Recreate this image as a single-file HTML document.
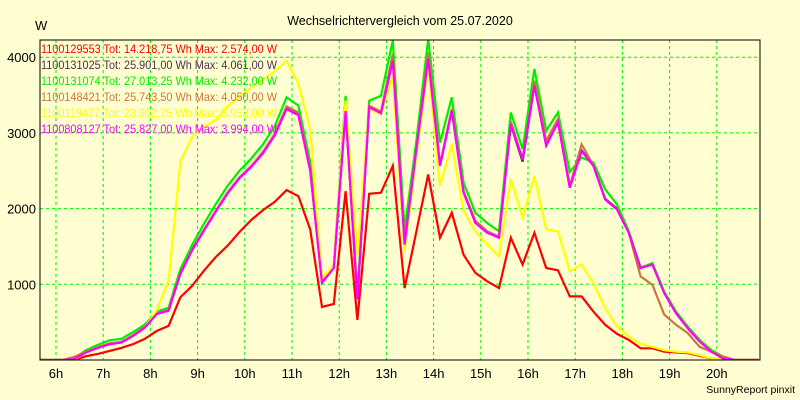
<!DOCTYPE html>
<html><head><meta charset="utf-8">
<style>
html,body{margin:0;padding:0;background:#ffffd2;}
svg{display:block;font-family:"Liberation Sans",sans-serif;}
</style></head>
<body>
<svg id="chart" width="800" height="400" viewBox="0 0 800 400" xmlns="http://www.w3.org/2000/svg">
<rect x="0" y="0" width="800" height="400" fill="#ffffd2"/>
<text x="400" y="25" font-size="12.5" text-anchor="middle" fill="#000">Wechselrichtervergleich vom 25.07.2020</text>
<text x="35" y="30" font-size="13" fill="#000">W</text>
<text x="795" y="393" font-size="10.5" text-anchor="end" fill="#000">SunnyReport pinxit</text>
<g id="grid"></g>
<g id="series"></g>
<g id="legend"></g>
<rect x="40" y="40" width="720" height="320" fill="none" stroke="#000" stroke-width="1"/>
<g id="axes"></g>
</svg>
<script>
const yTicks = [1000, 2000, 3000, 4000];
const xTickHours = [6,7,8,9,10,11,12,13,14,15,16,17,18,19,20];
const xTickLabels = ["6h","7h","8h","9h","10h","11h","12h","13h","14h","15h","16h","17h","18h","19h","20h"];
// samples every 15 min starting 5:45
const startHour = 5.75;
const seriesNames = ["1100129553","1100131025","1100131074","1100148421","1100119477","1100808127"];
const seriesColors = ["#ff0000","#4e3050","#00ee00","#c8783c","#ffff00","#ff00ff"];
const legendTot = ["14.218,75","25.901,00","27.013,25","25.743,50","23.902,75","25.827,00"];
const legendMax = ["2.574,00","4.061,00","4.232,00","4.050,00","3.952,00","3.994,00"];
const red = [0,0,0,0,50,80,120,160,210,280,385,450,830,980,1180,1360,1510,1690,1850,1980,2090,2245,2165,1725,700,740,2230,530,2195,2210,2565,950,1700,2450,1615,1945,1390,1150,1040,950,1615,1260,1680,1215,1185,840,840,640,465,345,265,155,155,110,100,90,55,20,0,0,0,0];
const dark = [0,0,0,10,100,160,210,240,320,430,610,660,1150,1460,1720,1970,2210,2410,2560,2740,2980,3330,3250,2520,1030,1225,3300,800,3350,3250,4000,1520,2790,4000,2570,3300,2220,1820,1690,1620,3110,2620,3640,2840,3150,2280,2770,2570,2130,2000,1690,1220,1270,890,620,420,250,115,25,0,0,0];
const green = [0,0,0,20,130,200,260,280,370,470,640,690,1200,1520,1800,2060,2300,2500,2660,2850,3090,3470,3360,2620,1050,1250,3490,850,3425,3490,4220,1720,2900,4240,2870,3470,2340,1945,1810,1700,3270,2785,3845,3030,3270,2485,2675,2610,2255,2055,1700,1215,1280,905,640,440,265,130,45,0,0,0];
const brown = [0,0,0,40,110,170,220,240,330,440,620,660,1150,1460,1720,1970,2210,2410,2560,2750,2990,3350,3270,2540,1040,1230,3320,820,3360,3280,4045,1540,2800,4065,2580,3320,2230,1840,1700,1630,3150,2650,3690,2895,3185,2300,2850,2570,2120,1990,1680,1105,995,600,465,355,175,110,45,0,0,0];
const yellow = [0,0,0,0,100,160,210,230,320,430,660,1050,2620,2950,3080,3170,3350,3480,3600,3700,3815,3950,3650,3050,1080,1240,3425,1400,3315,3250,3760,1435,2700,3890,2300,2850,1970,1700,1525,1370,2390,1880,2430,1725,1700,1170,1260,1015,685,440,310,210,175,130,110,100,65,20,0,0,0,0];
const magenta = [0,0,0,10,100,160,210,230,320,430,610,650,1140,1450,1710,1960,2200,2400,2550,2730,2970,3315,3235,2500,1020,1215,3290,800,3340,3260,3955,1525,2785,3980,2565,3290,2210,1810,1680,1615,3115,2650,3625,2830,3140,2275,2760,2565,2120,1990,1680,1215,1260,885,620,420,245,110,20,0,0,0];
const seriesData = [red, dark, green, brown, yellow, magenta];

const NS = "http://www.w3.org/2000/svg";
const PX0 = 40, PX1 = 760, PY0 = 40, PY1 = 360;
const SAMPLE_SHIFT = -0.115;
function xScale(h){ return 56 + (h - 6) * 47.2; }
function yScale(v){ return 360 - v * 0.0757; }
function mk(tag, attrs){ const e = document.createElementNS(NS, tag); for (const k in attrs) e.setAttribute(k, attrs[k]); return e; }

const grid = document.getElementById("grid");
const axes = document.getElementById("axes");
yTicks.forEach(function(v){
  const l = mk("line",{x1:PX0,x2:PX1,y1:yScale(v),y2:yScale(v),stroke:"#00ee00","stroke-dasharray":"3,3","stroke-width":1});
  
  
  grid.appendChild(l);
  const t = mk("text",{x:36,y:yScale(v)+5,"font-size":13,"text-anchor":"end",fill:"#000"});
  t.textContent = String(v);
  
  
  axes.appendChild(t);
});
xTickHours.forEach(function(h, i){
  const l = mk("line",{x1:xScale(h),x2:xScale(h),y1:PY0,y2:PY1,stroke:"#00ee00","stroke-dasharray":"3,3","stroke-width":1});
  
  
  grid.appendChild(l);
  const t = mk("text",{x:xScale(h),y:378,"font-size":13,"text-anchor":"middle",fill:"#000"});
  t.textContent = xTickLabels[i];
  
  
  axes.appendChild(t);
});

const sg = document.getElementById("series");
const clip = mk("clipPath",{id:"plotclip"});
clip.appendChild(mk("rect",{x:PX0,y:PY0,width:PX1-PX0,height:PY1-PY0}));
sg.appendChild(clip);
seriesData.forEach(function(arr, si){
  const pts = arr.map(function(v, i){ return xScale(startHour + i*0.25 + SAMPLE_SHIFT).toFixed(1) + "," + yScale(v).toFixed(1); }).join(" ");
  const p = mk("polyline",{points:pts,fill:"none",stroke:seriesColors[si],"stroke-width":2.2,"stroke-linejoin":"miter","clip-path":"url(#plotclip)"});
  
  
  sg.appendChild(p);
});

const lg = document.getElementById("legend");
seriesNames.forEach(function(n, i){
  const t = mk("text",{x:41,y:53 + i*16,"font-size":12,fill:seriesColors[i],textLength:236,lengthAdjust:"spacingAndGlyphs"});
  t.textContent = n + " Tot: " + legendTot[i] + " Wh Max: " + legendMax[i] + " W";
  
  
  lg.appendChild(t);
});
</script>
</body></html>
